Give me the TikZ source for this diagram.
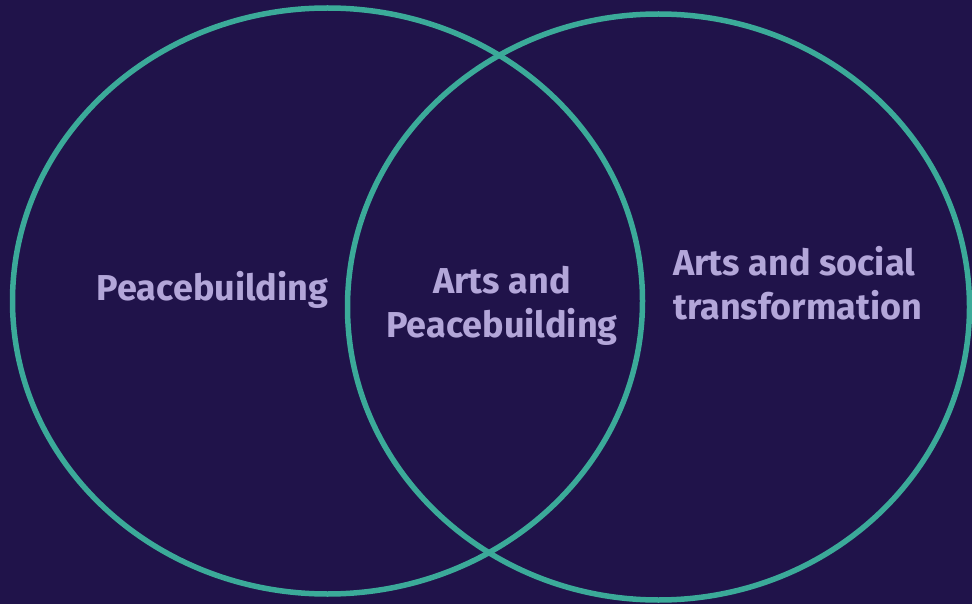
\documentclass[tikz,border=0pt]{standalone}
\usepackage{fontspec}
\setmainfont{Fira Sans}
\definecolor{bgnavy}{HTML}{20134A}
\definecolor{ringteal}{HTML}{3BAA99}
\definecolor{textlilac}{HTML}{B3A6D9}
\begin{document}
\begin{tikzpicture}[x=1pt,y=-1pt,
  ring/.style={ringteal, line width=5.5pt},
  vennlabel/.style={textlilac, inner sep=0pt, font=\bfseries\fontsize{36}{44}\selectfont}]
\fill[bgnavy] (0,0) rectangle (972,604);
\useasboundingbox (0,0) rectangle (972,604);
\clip (0,0) rectangle (972,604);

% the two sets
\draw[ring] (327.5,301) ellipse [x radius=315, y radius=293];
\draw[ring] (658.5,307) ellipse [x radius=311, y radius=293];

% labels
\node[vennlabel] (peace) at (212.5,290) {Peacebuilding};
\node[vennlabel, align=center] (both) at (502,306) {Arts and\\Peacebuilding};
\node[vennlabel, align=left, anchor=west] (social) at (673,283) {Arts and social\\transformation};
\end{tikzpicture}
\end{document}
